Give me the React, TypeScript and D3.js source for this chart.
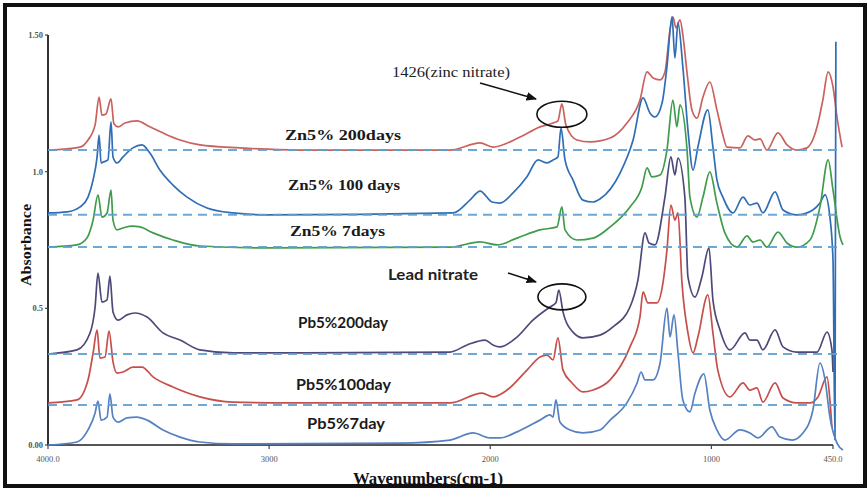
import React from "react";
import * as d3 from "d3";

const W = 868;
const H = 488;

// [wavenumber (cm-1), absorbance]
const zn200: [number, number][] = [
  [4000,1.079],[3855,1.090],[3819,1.116],[3787,1.171],[3769,1.273],[3756,1.207],[3738,1.211],[3715,1.266],[3702,1.175],[3683,1.164],
  [3652,1.178],[3598,1.186],[3539,1.164],[3471,1.138],[3403,1.116],[3313,1.098],[3132,1.087],[2860,1.079],[2182,1.079],[2046,1.105],
  [1988,1.090],[1865,1.127],[1775,1.164],[1716,1.178],[1694,1.186],[1676,1.248],[1658,1.171],[1608,1.116],[1549,1.109],[1458,1.123],
  [1382,1.178],[1323,1.262],[1291,1.365],[1264,1.343],[1232,1.336],[1210,1.365],[1187,1.518],[1174,1.566],[1160,1.526],[1142,1.555],
  [1129,1.500],[1110,1.361],[1088,1.226],[1065,1.196],[1038,1.273],[1007,1.328],[975,1.226],[948,1.134],[930,1.090],[871,1.087],
  [835,1.131],[803,1.116],[780,1.120],[749,1.079],[699,1.142],[658,1.098],[613,1.079],[568,1.087],[522,1.164],[496,1.262],
  [472,1.365],[450,1.310],[432,1.200],[409,1.090],
];

const zn100: [number, number][] = [
  [4000,0.849],[3914,0.853],[3855,0.871],[3819,0.907],[3796,0.970],[3778,1.054],[3769,1.134],[3760,1.032],[3751,1.035],[3729,1.043],
  [3715,1.182],[3706,1.054],[3688,1.032],[3661,1.054],[3616,1.087],[3575,1.098],[3539,1.068],[3494,1.006],[3435,0.951],[3371,0.907],
  [3281,0.867],[3163,0.849],[3010,0.842],[2168,0.849],[2092,0.896],[2046,0.929],[1992,0.889],[1956,0.885],[1897,0.922],[1834,0.981],
  [1784,1.043],[1743,1.032],[1716,1.043],[1694,1.054],[1680,1.160],[1662,1.043],[1626,0.970],[1581,0.896],[1535,0.889],[1504,0.900],
  [1413,0.995],[1354,1.116],[1309,1.270],[1278,1.215],[1255,1.200],[1223,1.251],[1201,1.383],[1178,1.566],[1165,1.416],[1151,1.544],
  [1129,1.383],[1106,1.153],[1083,1.006],[1061,1.090],[1016,1.226],[993,1.090],[975,0.970],[948,0.907],[902,0.849],[857,0.907],
  [826,0.878],[794,0.885],[767,0.849],[712,0.926],[676,0.860],[613,0.842],[541,0.860],[509,0.885],[486,0.915],[464,0.834],
  [450,0.677],[441,0.018],[437,1.475],
];

const zn7: [number, number][] = [
  [4000,0.724],[3869,0.732],[3824,0.757],[3796,0.823],[3774,0.915],[3756,0.834],[3733,0.849],[3715,0.933],[3706,0.823],[3688,0.787],
  [3661,0.794],[3620,0.801],[3584,0.798],[3525,0.776],[3435,0.750],[3313,0.728],[3010,0.721],[2182,0.724],[2046,0.743],[1969,0.732],
  [1879,0.757],[1775,0.787],[1698,0.798],[1676,0.871],[1662,0.787],[1608,0.750],[1535,0.757],[1458,0.798],[1368,0.871],[1314,0.944],
  [1291,1.014],[1269,0.981],[1232,0.988],[1201,1.079],[1174,1.262],[1156,1.164],[1142,1.244],[1110,1.079],[1097,0.907],[1065,0.834],
  [1038,0.907],[1007,0.999],[975,0.885],[939,0.776],[884,0.724],[839,0.765],[812,0.743],[780,0.750],[749,0.724],[699,0.779],
  [658,0.739],[613,0.724],[554,0.750],[509,0.871],[472,1.043],[450,0.933],[418,0.761],[405,0.732],
];

const pb200: [number, number][] = [
  [4000,0.333],[3869,0.348],[3810,0.410],[3787,0.505],[3774,0.629],[3756,0.523],[3733,0.531],[3720,0.618],[3706,0.487],[3683,0.457],
  [3643,0.476],[3607,0.483],[3552,0.468],[3480,0.410],[3403,0.384],[3313,0.348],[3163,0.337],[2182,0.340],[2105,0.366],[2024,0.384],
  [1988,0.366],[1956,0.359],[1879,0.395],[1807,0.457],[1730,0.505],[1703,0.520],[1690,0.567],[1671,0.487],[1626,0.413],[1581,0.392],
  [1504,0.402],[1445,0.432],[1368,0.505],[1332,0.604],[1300,0.776],[1282,0.739],[1255,0.732],[1210,0.907],[1183,1.054],[1165,0.988],
  [1151,1.050],[1120,0.907],[1106,0.615],[1074,0.541],[1043,0.615],[1011,0.721],[993,0.531],[961,0.421],[916,0.348],[848,0.410],
  [826,0.384],[794,0.384],[767,0.348],[712,0.421],[676,0.359],[613,0.340],[522,0.340],[477,0.413],[455,0.348],[450,0.267],
];

const pb100: [number, number][] = [
  [4000,0.154],[3869,0.165],[3819,0.238],[3796,0.337],[3778,0.421],[3765,0.318],[3742,0.322],[3724,0.417],[3706,0.304],[3688,0.263],
  [3661,0.267],[3616,0.285],[3575,0.285],[3525,0.249],[3435,0.212],[3313,0.176],[3163,0.157],[2937,0.154],[2182,0.154],[2037,0.190],
  [1988,0.176],[1924,0.201],[1834,0.274],[1775,0.322],[1743,0.329],[1716,0.311],[1694,0.392],[1671,0.274],[1630,0.227],[1581,0.194],
  [1535,0.201],[1458,0.238],[1368,0.359],[1323,0.468],[1309,0.560],[1287,0.520],[1246,0.520],[1219,0.593],[1201,0.713],[1183,0.878],
  [1165,0.823],[1151,0.849],[1133,0.593],[1106,0.410],[1083,0.337],[1061,0.395],[1016,0.549],[993,0.410],[971,0.274],[916,0.176],
  [857,0.227],[826,0.201],[794,0.209],[767,0.157],[712,0.227],[676,0.172],[613,0.154],[554,0.154],[518,0.176],[477,0.249],
  [464,0.165],[455,0.066],
];

const pb7: [number, number][] = [
  [4000,0.000],[3869,0.011],[3819,0.055],[3787,0.117],[3774,0.161],[3760,0.091],[3733,0.102],[3720,0.187],[3706,0.102],[3683,0.084],
  [3643,0.099],[3598,0.102],[3552,0.091],[3480,0.055],[3403,0.029],[3313,0.011],[3163,0.004],[2408,0.007],[2182,0.018],[2078,0.044],
  [2001,0.026],[1956,0.026],[1879,0.048],[1775,0.091],[1730,0.110],[1716,0.102],[1703,0.165],[1685,0.084],[1639,0.055],[1581,0.044],
  [1504,0.055],[1458,0.091],[1382,0.154],[1336,0.227],[1318,0.267],[1300,0.238],[1264,0.238],[1232,0.300],[1201,0.501],[1187,0.395],
  [1169,0.476],[1151,0.337],[1129,0.165],[1097,0.121],[1074,0.190],[1034,0.260],[1007,0.128],[975,0.055],[939,0.018],[871,0.055],
  [826,0.044],[790,0.026],[726,0.066],[690,0.029],[635,0.018],[586,0.044],[541,0.128],[509,0.300],[486,0.238],[464,0.102],
  [432,0.007],[405,-0.018],
];

const seriesNames = ["Zn5% 200days", "Zn5% 100 days", "Zn5% 7days", "Pb5%200day", "Pb5%100day", "Pb5%7day"];
const seriesData = [zn200, zn100, zn7, pb200, pb100, pb7];
const seriesColors = ["#c9625e", "#2f6db4", "#3f9c4a", "#4d4a7a", "#c64f4b", "#5580c2"];
const baselines = [1.079, 0.842, 0.724, 0.333, 0.146];

const xTicks = [4000, 3000, 2000, 1000, 450];
const xTickLabels = ["4000.0", "3000", "2000", "1000", "450.0"];
const yTicks = [1.5, 1.0, 0.5, 0.0];
const yTickLabels = ["1.50", "1.0", "0.5", "0.00"];

export default function App() {
  const x = d3.scaleLinear().domain([4000, 450]).range([48, 833]);
  const y = d3.scaleLinear().domain([0, 1.5]).range([445, 35]);
  const line = d3
    .line<[number, number]>()
    .x((d) => x(d[0]))
    .y((d) => y(d[1]))
    .curve(d3.curveMonotoneX);

  const serif = "'Liberation Serif', 'Times New Roman', serif";
  const sans = "Lato, 'Open Sans', sans-serif";

  // label layout: [x, baselineY, textLength, family]
  const labelPos: [number, number, number, string][] = [
    [285, 140, 116, serif],
    [288, 190, 112, serif],
    [290, 236, 95, serif],
    [298, 328, 90, sans],
    [296, 390, 95, sans],
    [307, 429, 78, sans],
  ];

  return (
    <svg width={W} height={H} style={{ position: "absolute", left: 0, top: 0, background: "#fff" }}>
      <defs>
        <marker id="arr" viewBox="0 0 10 10" refX="9" refY="5" markerWidth="7" markerHeight="7" orient="auto">
          <path d="M0,1 L10,5 L0,9 z" fill="#111" />
        </marker>
      </defs>
      <rect x={0} y={0} width={W} height={H} fill="#fff" />

      {/* axes */}
      <line x1={x(4000)} x2={x(4000)} y1={y(1.5)} y2={y(0)} stroke="#333" strokeWidth={2} />
      <line x1={x(4000)} x2={x(450)} y1={y(0)} y2={y(0)} stroke="#555" strokeWidth={2} />
      {xTicks.map((t, i) => (
        <g key={"xt" + i}>
          <line x1={x(t)} x2={x(t)} y1={y(0)} y2={y(0) + 4} stroke="#444" strokeWidth={1.2} />
          <text x={x(t)} y={y(0) + 17} fontSize={8.5} fontFamily={serif} fill="#555" textAnchor="middle">
            {xTickLabels[i]}
          </text>
        </g>
      ))}
      {yTicks.map((t, i) => (
        <g key={"yt" + i}>
          <line x1={x(4000) - 3} x2={x(4000)} y1={y(t)} y2={y(t)} stroke="#444" strokeWidth={1.2} />
          <text x={x(4000) - 5} y={y(t) + 3} fontSize={8.5} fontFamily={serif} fontWeight="bold" fill="#555" textAnchor="end">
            {yTickLabels[i]}
          </text>
        </g>
      ))}

      {/* spectra */}
      {seriesData.map((d, i) => (
        <path key={"s" + i} d={line(d) || ""} fill="none" stroke={seriesColors[i]} strokeWidth={1.7} strokeLinejoin="round" />
      ))}

      {/* baselines */}
      {baselines.map((b, i) => (
        <line key={"b" + i} x1={x(4000)} x2={x(420)} y1={y(b)} y2={y(b)} stroke="#5f9fd2" strokeWidth={2} strokeDasharray="9,6" opacity={0.9} />
      ))}

      {/* series labels */}
      {seriesNames.map((n, i) => (
        <text
          key={"l" + i}
          x={labelPos[i][0]}
          y={labelPos[i][1]}
          fontSize={15}
          fontWeight="bold"
          fontFamily={labelPos[i][3]}
          fill="#1a1a1a"
          textLength={labelPos[i][2]}
          lengthAdjust="spacingAndGlyphs"
        >
          {n}
        </text>
      ))}

      {/* annotations */}
      <text x={392} y={77} fontSize={14} fontFamily={serif} fill="#222" textLength={118} lengthAdjust="spacingAndGlyphs">
        1426(zinc nitrate)
      </text>
      <line x1={480} y1={83} x2={536} y2={99} stroke="#111" strokeWidth={1.5} markerEnd="url(#arr)" />
      <ellipse cx={x(1676)} cy={y(1.21)} rx={25} ry={13} fill="none" stroke="#111" strokeWidth={1.6} />

      <text x={388} y={280} fontSize={15} fontFamily={sans} fontWeight="bold" fill="#222" textLength={90} lengthAdjust="spacingAndGlyphs">
        Lead nitrate
      </text>
      <line x1={508} y1={273} x2={536} y2={282} stroke="#111" strokeWidth={1.5} markerEnd="url(#arr)" />
      <ellipse cx={x(1676)} cy={y(0.542)} rx={24} ry={13} fill="none" stroke="#111" strokeWidth={1.6} />

      {/* axis titles */}
      <text x={428} y={484} fontSize={17} fontWeight="bold" fontFamily={serif} fill="#111" textAnchor="middle" textLength={150} lengthAdjust="spacingAndGlyphs">
        Wavenumbers(cm-1)
      </text>
      <text
        transform="translate(31,245) rotate(-90)"
        fontSize={15}
        fontWeight="bold"
        fontFamily={serif}
        fill="#111"
        textAnchor="middle"
        textLength={82}
        lengthAdjust="spacingAndGlyphs"
      >
        Absorbance
      </text>

      {/* frame */}
      <rect x={5} y={5} width={860} height={481} fill="none" stroke="#111" strokeWidth={4} />
    </svg>
  );
}
